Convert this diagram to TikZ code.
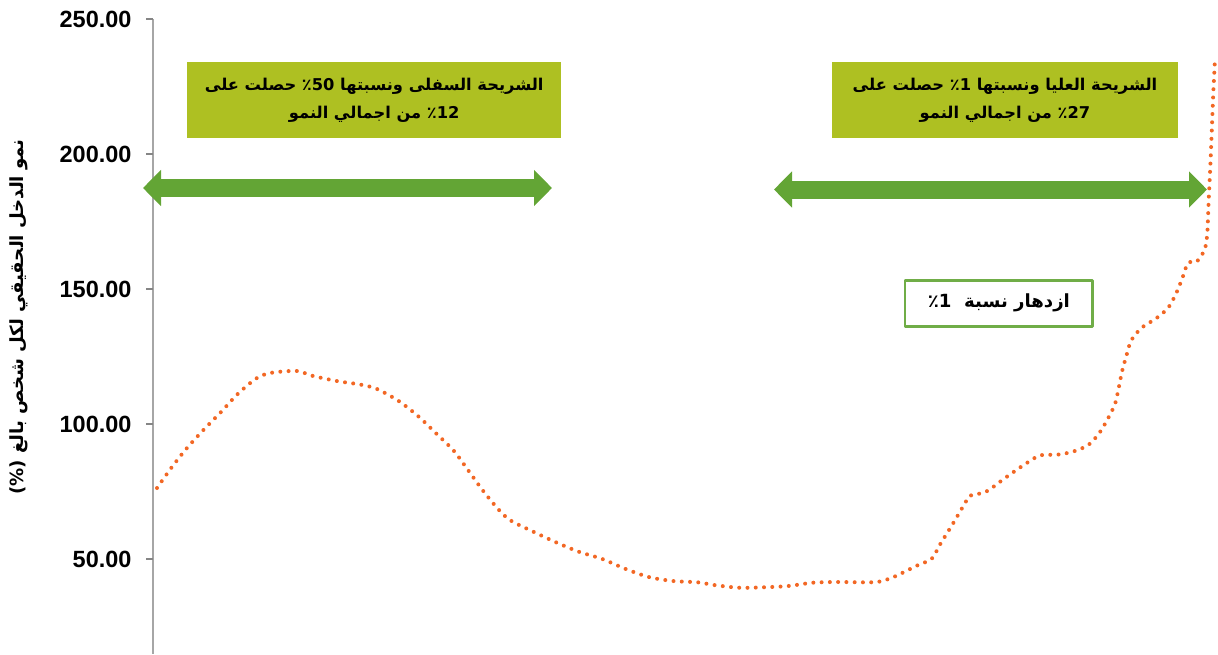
\documentclass[tikz,border=0pt]{standalone}
\usepackage{fontspec}
\setmainfont{Liberation Sans}
\newfontfamily\arabicfont[Script=Arabic]{DejaVu Sans}
\TeXXeTstate=1
\usetikzlibrary{arrows.meta}
\usetikzlibrary{positioning}

\definecolor{olivebox}{RGB}{174,192,34}
\definecolor{spangreen}{RGB}{99,165,53}
\definecolor{framegreen}{RGB}{112,173,71}
\definecolor{dotorange}{RGB}{242,103,36}
\definecolor{axisgray}{RGB}{166,166,166}

\begin{document}
\begin{tikzpicture}[line cap=round,line join=round,x=0.75pt,y=-0.75pt,
  every node/.style={inner sep=0pt},
  band/.style={fill=olivebox,align=center,minimum height=57.5pt,
    font=\arabicfont\bfseries\fontsize{12.2}{21}\selectfont},
  span/.style={draw=spangreen,line width=13.5pt,line cap=butt,
    {Triangle[length=13.5pt,width=26.5pt]}-{Triangle[length=13.5pt,width=26.5pt]}},
  ticklabel/.style={anchor=east,text=black,font=\bfseries\fontsize{17.6}{19}\selectfont}]
\useasboundingbox (0,0) rectangle (1218,654);
% axis
\draw[color=axisgray,line width=1.5pt,line cap=butt] (153,19) -- (153,654);
\foreach \v in {50,100,150,200,250}
\draw[shift={(153,{19+(250-\v)*2.7})},color=axisgray!80!black,line width=0.8pt,line cap=butt] (0,0) -- (-7,0)
  node[ticklabel,xshift=-10.5pt] (tick\v) {\v.00};
\node[rotate=90,font=\arabicfont\bfseries\fontsize{13.6}{15}\selectfont] (ytitle) at (19,317)
  {\beginR نمو الدخل الحقيقي لكل شخص بالغ \beginL(\%)\endL\endR};
% boxes
\node[band,minimum width=280.3pt] (lowbox) at (374.2,100)
  {\beginR الشريحة السفلى ونسبتها \beginL50\endL٪ حصلت على\endR\\
   \beginR\beginL12\endL٪ من اجمالي النمو\endR};
\node[band,minimum width=259pt] (topbox) at (1005,100)
  {\beginR الشريحة العليا ونسبتها \beginL1\endL٪ حصلت على\endR\\
   \beginR\beginL27\endL٪ من اجمالي النمو\endR};
\node[draw=framegreen,line width=1.8pt,fill=white,minimum width=140.5pt,minimum height=34.5pt,
  font=\arabicfont\bfseries\fontsize{13.6}{16}\selectfont] (boombox) at (998.9,303.3)
  {\beginR ازدهار نسبة \ \beginL1\endL٪\endR};
% arrows
\coordinate (lowL) at (143,188);
\coordinate (lowR) at (552,188);
\coordinate (topL) at (774,189.5);
\coordinate (topR) at (1207,189.5);
\draw[span] (lowL) -- (lowR);
\draw[span] (topL) -- (topR);
% curve
\draw[color=dotorange,line width=3pt,dash pattern=on 0pt off 6.2pt]
  plot[smooth,tension=0.5] coordinates {(157,488) (171.7,467.3) (187,448) (203.7,429.7)
  (221,412) (238,393.7) (257,378) (272,372.7) (297,371) (312,375.7) (336.7,381)
  (361,384.7) (377,389) (398.7,401) (418.3,416.3) (436,433.3) (453.7,450.7)
  (468.5,470.7) (483,490.7) (499,510) (511,520.7) (533.3,531.7) (556,542.3)
  (578.7,551.7) (602.3,559) (625,568.7) (648.7,577) (673,581) (697.7,582.3)
  (714,585) (738.7,587.7) (763.3,587.3) (788.3,586) (812.7,582.7) (837.7,582)
  (862.7,582.3) (879,581.7) (894.3,576.7) (916.7,565.7) (931.7,558.7) (939.7,545)
  (952.7,524) (965.3,502.7) (970,495.7) (986,491.7) (1006,477.3) (1026.3,463.3)
  (1040.3,455.3) (1057,454.7) (1072.7,451.7) (1088.3,445) (1099.3,433) (1107.7,419)
  (1115,404) (1118.7,388) (1122,371.7) (1126.3,356) (1131.3,340.3) (1141.7,327.7)
  (1155.7,318.7) (1168,308) (1176,293.7) (1182.3,278.3) (1188,263) (1196.3,262)
  (1201,256) (1205,248.7) (1207.3,233) (1208.7,199.7) (1210.3,166.7) (1212,125.3)
  (1213.3,92.3) (1215,59)};
\end{tikzpicture}
\end{document}
